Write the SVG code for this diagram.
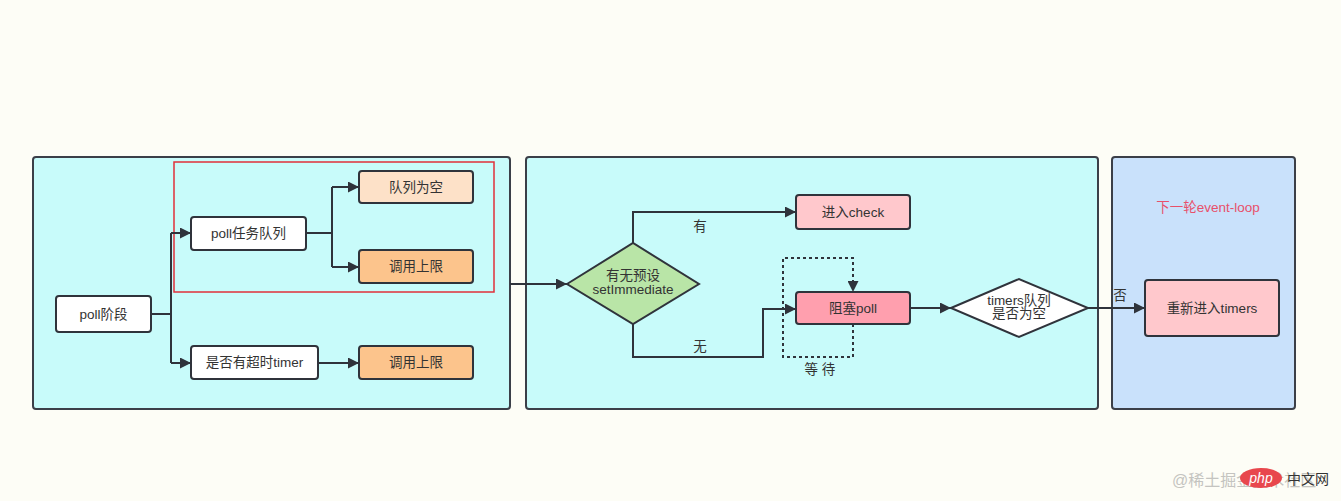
<svg xmlns="http://www.w3.org/2000/svg" width="1341" height="501" viewBox="0 0 1341 501">
<defs>
<style>
.panel{stroke:#3b3f48;stroke-width:2}
.box{stroke:#2f333b;stroke-width:2}
.t{font-family:"Liberation Sans","Noto Sans CJK SC",sans-serif;font-size:13.5px;fill:#333;text-anchor:middle}
.c{fill:none;stroke:#2f333b;stroke-width:2}
.d{fill:none;stroke:#2f333b;stroke-width:2;stroke-dasharray:3 3}
</style>
<marker id="ah" viewBox="0 0 10 10" refX="10" refY="5" markerWidth="15" markerHeight="11" markerUnits="userSpaceOnUse" orient="auto"><path d="M0,0 L10,5 L0,10 z" fill="#2f333b"/></marker>
</defs>
<rect x="0" y="0" width="1341" height="501" fill="#fdfdf6"/>
<g id="panel1"><rect class="panel" x="33" y="157" width="477" height="252" rx="3" fill="#c8fbfa"/></g>
<g id="panel2"><rect class="panel" x="526" y="157" width="572" height="252" rx="3" fill="#c8fbfa"/></g>
<g id="panel3"><rect class="panel" x="1112" y="157" width="183" height="252" rx="3" fill="#c9e1fb"/>
<text class="t" x="1208" y="212" style="fill:#e8506a">下一轮event-loop</text></g>
<g id="highlight"><rect x="174" y="162" width="320" height="130" fill="none" stroke="#e0303a" stroke-width="1.5"/></g>
<g id="connectors">
<path class="c" d="M151,314 H171 M171,233 V363" />
<path class="c" d="M171,233 H191" marker-end="url(#ah)"/>
<path class="c" d="M171,363 H191" marker-end="url(#ah)"/>
<path class="c" d="M306,233 H332 M332,187 V267"/>
<path class="c" d="M332,187 H359" marker-end="url(#ah)"/>
<path class="c" d="M332,267 H359" marker-end="url(#ah)"/>
<path class="c" d="M318,363 H359" marker-end="url(#ah)"/>
<path class="c" d="M510,284 H567" marker-end="url(#ah)"/>
<path class="c" d="M633,243 V212 H796" marker-end="url(#ah)"/>
<path class="c" d="M633,324 V357 H763 V309 H796" marker-end="url(#ah)"/>
<path class="d" d="M853,324 V357 H783 V258 H853 V292" marker-end="url(#ah)"/>
<path class="c" d="M910,308 H951" marker-end="url(#ah)"/>
<path class="c" d="M1088,308 H1145" marker-end="url(#ah)"/>
<text class="t" x="700" y="231">有</text>
<text class="t" x="700" y="351">无</text>
<text class="t" x="820" y="374">等 待</text>
<text class="t" x="1120" y="300">否</text>
</g>
<g id="n_pollstage"><rect class="box" x="56" y="296" width="95" height="36" rx="3" fill="#fff"/><text class="t" x="103.5" y="319">poll阶段</text></g>
<g id="n_pollqueue"><rect class="box" x="191" y="217" width="115" height="33" rx="3" fill="#fff"/><text class="t" x="248.5" y="238">poll任务队列</text></g>
<g id="n_empty"><rect class="box" x="359" y="171" width="114" height="32" rx="3" fill="#fde1c8"/><text class="t" x="416" y="192">队列为空</text></g>
<g id="n_limit1"><rect class="box" x="359" y="250" width="114" height="33" rx="3" fill="#fcc48c"/><text class="t" x="416" y="271">调用上限</text></g>
<g id="n_timer"><rect class="box" x="191" y="346" width="127" height="33" rx="3" fill="#fff"/><text class="t" x="254.5" y="367">是否有超时timer</text></g>
<g id="n_limit2"><rect class="box" x="359" y="346" width="114" height="33" rx="3" fill="#fcc48c"/><text class="t" x="416" y="367">调用上限</text></g>
<g id="n_decision1"><path class="box" d="M567,284 L633,243 L699,284 L633,324 Z" fill="#b9e5a7"/><text class="t" x="633" y="280">有无预设</text><text class="t" x="633" y="294">setImmediate</text></g>
<g id="n_check"><rect class="box" x="796" y="195" width="114" height="34" rx="3" fill="#ffc8cc"/><text class="t" x="853" y="217">进入check</text></g>
<g id="n_block"><rect class="box" x="796" y="292" width="114" height="32" rx="3" fill="#ff9fae"/><text class="t" x="853" y="313">阻塞poll</text></g>
<g id="n_decision2"><path class="box" d="M951,308 L1019,279 L1088,308 L1019,337 Z" fill="#fff"/><text class="t" x="1019" y="305">timers队列</text><text class="t" x="1019" y="318">是否为空</text></g>
<g id="n_timers"><rect class="box" x="1145" y="280" width="134" height="56" rx="3" fill="#ffc8cc"/><text class="t" x="1212" y="313">重新进入timers</text></g>
<g id="watermark">
<text x="1172" y="486" font-family="Liberation Sans,'Noto Sans CJK SC',sans-serif" font-size="16" fill="#c4c4c0">@稀土掘金技术社区</text>
<ellipse cx="1261" cy="478" rx="21" ry="10" fill="#e8474d"/>
<text x="1261" y="483" font-family="Liberation Sans,sans-serif" font-size="14" font-style="italic" fill="#fff" text-anchor="middle">php</text>
<text x="1287" y="484" font-family="Liberation Sans,'Noto Sans CJK SC',sans-serif" font-size="14" fill="#333">中文网</text>
</g>
</svg>
